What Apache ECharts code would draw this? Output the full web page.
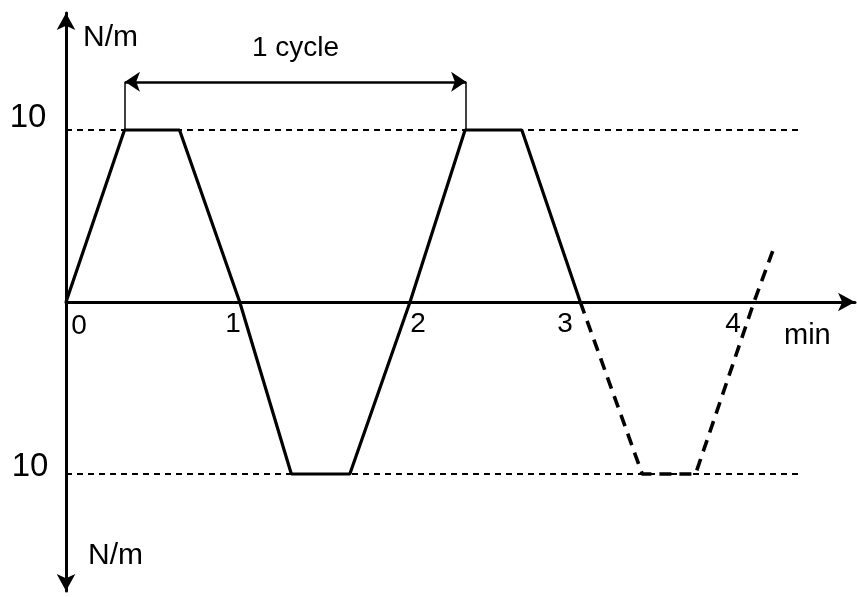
<!DOCTYPE html>
<html>
<head>
<meta charset="utf-8">
<script src="https://cdn.jsdelivr.net/npm/echarts@6/dist/echarts.min.js"></script>
<style>
  html, body { margin: 0; padding: 0; background: #fff; }
  #main { width: 857px; height: 597px; }
</style>
</head>
<body>
<div id="main"></div>
<script>
// waveform (x in min, y in N/m)
var solidWave = [[0, 0], [0.34, 10], [0.66, 10], [1.01, 0], [1.31, -10], [1.65, -10], [2.0, 0], [2.32, 10], [2.65, 10], [2.99, 0]];
var dashedWave = [[2.99, 0], [3.35, -10], [3.66, -10], [4.0, 0], [4.11, 3.0]];
var levels = [10, -10];
var levelEnd = 4.28;
var cycleStart = 0.343, cycleEnd = 2.326, cycleY = 12.8;
var xTicks = [0, 1, 2, 3, 4];
var xTickLabels = ['0', '1', '2', '3', '4'];
var yTickLabels = ['10', '10'];

var FONT = '"Liberation Sans", Arial, sans-serif';
var chart = echarts.init(document.getElementById('main'));

// little nudges so the labels sit where the drawing has them
var xOffsets = [[13, 24], [-5, 22], [8, 22], [-17, 22], [-21, 22]];
var yOffsets = [[-38, -12], [-36, -7]];

var levelSeries = levels.map(function (v) {
  return {
    type: 'line', data: [[0, v], [levelEnd, v]], showSymbol: false, silent: true,
    lineStyle: { color: '#000', width: 2, type: [6, 5] }, z: 1
  };
});

chart.setOption({
  animation: false,
  grid: { left: 66, right: 2, top: 13, bottom: 6 },
  xAxis: {
    type: 'value', min: 0, max: 4.587,
    axisLine: { onZero: true, lineStyle: { color: '#000', width: 3 }, symbol: ['none', 'arrow'], symbolSize: [14, 17] },
    axisTick: { show: false }, axisLabel: { show: false }, splitLine: { show: false }
  },
  yAxis: {
    type: 'value', min: -16.8, max: 16.8,
    axisLine: { lineStyle: { color: '#000', width: 3 }, symbol: ['arrow', 'arrow'], symbolSize: [14, 17] },
    axisTick: { show: false }, axisLabel: { show: false }, splitLine: { show: false }
  },
  series: levelSeries.concat([
    {
      type: 'line', data: solidWave, showSymbol: false, silent: true,
      lineStyle: { color: '#000', width: 3.2 }, z: 3
    },
    {
      type: 'line', data: dashedWave, showSymbol: false, silent: true,
      lineStyle: { color: '#000', width: 3.6, type: [12, 8] }, z: 3
    },
    {
      type: 'line', data: [], silent: true,
      markLine: {
        silent: true, animation: false,
        data: [
          [{ coord: [cycleStart, cycleY], symbol: 'arrow', symbolSize: 15 },
           { coord: [cycleEnd, cycleY], symbol: 'arrow', symbolSize: 15,
             lineStyle: { color: '#000', width: 2.5, type: 'solid' },
             label: { show: true, position: 'middle', formatter: '1 cycle', distance: 20,
                      color: '#000', fontSize: 28, fontFamily: FONT } }],
          [{ coord: [cycleStart, 10], symbol: 'none' },
           { coord: [cycleStart, cycleY], symbol: 'none', lineStyle: { color: '#000', width: 1.5, type: 'solid' }, label: { show: false } }],
          [{ coord: [cycleEnd, 10], symbol: 'none' },
           { coord: [cycleEnd, cycleY], symbol: 'none', lineStyle: { color: '#000', width: 1.5, type: 'solid' }, label: { show: false } }]
        ]
      }
    }
  ])
});

// tick labels and axis names, placed through the chart's own scales
function txt(text, pos, off, size) {
  return { type: 'text', x: pos[0] + off[0], y: pos[1] + off[1], z: 10,
           style: { text: text, fill: '#000', font: size + 'px ' + FONT,
                    align: 'center', verticalAlign: 'middle' } };
}
var g = [];
xTicks.forEach(function (v, i) {
  g.push(txt(xTickLabels[i], chart.convertToPixel({ gridIndex: 0 }, [v, 0]), xOffsets[i], 28));
});
levels.forEach(function (v, i) {
  g.push(txt(yTickLabels[i], chart.convertToPixel({ gridIndex: 0 }, [0, v]), yOffsets[i], 33));
});
g.push({ type: 'text', left: 83, top: 23, style: { text: 'N/m', font: '30px ' + FONT, fill: '#000' } });
g.push({ type: 'text', left: 88, top: 541, style: { text: 'N/m', font: '30px ' + FONT, fill: '#000' } });
g.push({ type: 'text', left: 784, top: 321, style: { text: 'min', font: '29px ' + FONT, fill: '#000' } });
chart.setOption({ graphic: g });
</script>
</body>
</html>
